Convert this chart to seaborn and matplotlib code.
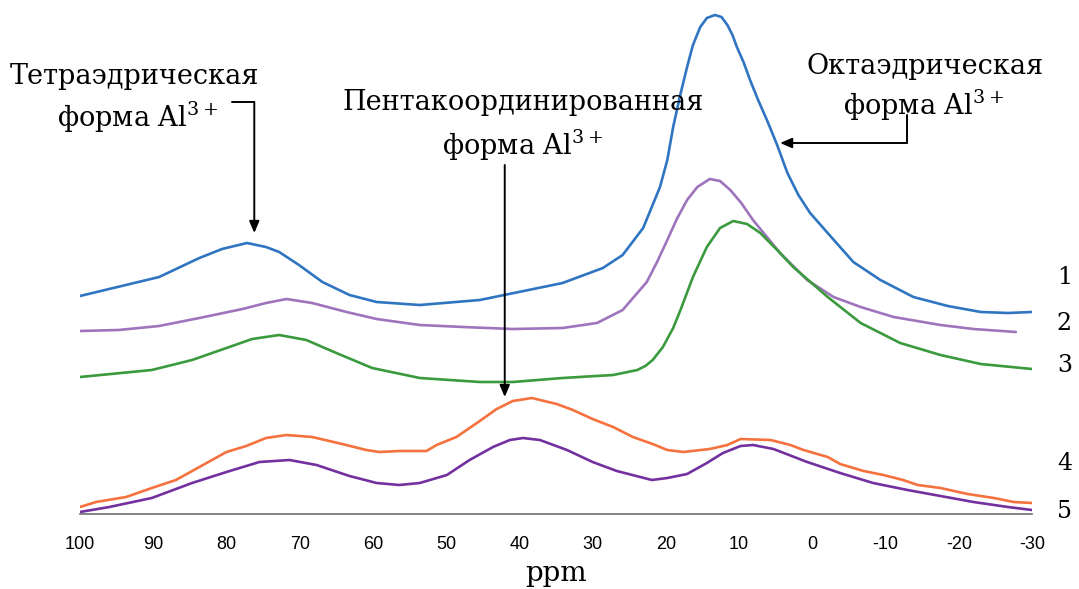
import matplotlib
matplotlib.use("Agg")
import matplotlib.pyplot as plt
import seaborn as sns
import pandas as pd

# ── data: chemical shift (ppm) and intensity (arb. units) ────
ppm_1 = [100, 89.2, 83.7, 80.6, 77.2, 74.6, 72.8, 70.1, 66.9, 63.2, 59.5, 53.6,
         45.4, 34.1, 28.6, 25.9, 23.1, 22.2, 20.8, 19.8, 19.0, 18.1, 17.1, 16.3,
         15.3, 14.4, 13.3, 12.4, 11.6, 10.9, 10.3, 9.4, 8.5, 7.4, 6.2, 4.8,
         3.4, 1.9, 0.3, -2.1, -5.6, -9.3, -13.8, -18.5, -23.0, -26.7, -30]
int_1 = [218, 237, 256, 265, 271, 267, 262, 249, 232, 219, 212, 209,
         214, 231, 246, 259, 286, 302, 327, 354, 387, 417, 447, 469,
         487, 496, 499, 497, 489, 479, 467, 452, 434, 414, 394, 369,
         341, 319, 301, 281, 252, 234, 217, 208, 202, 201, 202]

ppm_2 = [100, 94.7, 89.2, 83.7, 77.8, 74.6, 71.8, 68.3, 63.6, 59.5, 53.6, 47.7,
         40.9, 34.1, 29.4, 25.9, 22.6, 21.2, 19.8, 18.5, 17.1, 15.7, 14.0, 12.6,
         11.2, 9.7, 8.1, 4.4, 0.7, -2.9, -6.6, -11.1, -17.5, -22.0, -27.8]
int_2 = [183, 184, 188, 196, 205, 211, 215, 211, 202, 195, 189, 187,
         185, 186, 191, 204, 232, 252, 274, 295, 314, 327, 335, 333,
         324, 311, 294, 261, 234, 217, 207, 197, 189, 185, 182]

ppm_3 = [100, 90.2, 84.7, 80.0, 76.5, 72.8, 69.1, 65.0, 60.1, 53.6, 45.4, 40.9,
         34.1, 27.2, 23.9, 22.8, 21.8, 20.4, 19.0, 18.0, 16.3, 14.4, 12.6, 10.8,
         8.9, 7.1, 4.8, 2.6, -2.1, -6.6, -12.0, -17.5, -23.0, -30]
int_3 = [137, 144, 154, 166, 175, 179, 174, 161, 146, 136, 132, 132,
         136, 139, 144, 148, 154, 167, 186, 204, 237, 267, 286, 293,
         290, 281, 264, 247, 217, 191, 171, 159, 150, 145]

ppm_4 = [100, 97.8, 93.7, 90.2, 86.9, 83.7, 80.0, 77.3, 74.6, 71.8, 68.3, 64.2,
         60.9, 59.1, 56.4, 52.7, 51.3, 48.6, 45.8, 43.1, 40.9, 38.3, 34.9, 32.7,
         30.0, 27.2, 24.5, 21.8, 19.8, 17.6, 14.0, 11.6, 9.8, 5.7, 3.0, 1.2,
         -2.1, -3.8, -7.0, -9.7, -12.4, -14.4, -17.5, -21.2, -24.8, -27.5, -30]
int_4 = [7, 12, 17, 26, 34, 47, 62, 68, 76, 79, 77, 70,
         64, 62, 63, 63, 69, 77, 91, 105, 113, 116, 110, 104,
         95, 87, 77, 70, 64, 62, 65, 69, 75, 74, 69, 64,
         57, 50, 43, 39, 34, 29, 26, 20, 16, 12, 11]

ppm_5 = [100, 96.0, 90.2, 84.7, 80.0, 75.5, 71.4, 67.7, 63.2, 59.5, 56.4, 53.6,
         49.9, 46.8, 43.6, 41.3, 39.5, 37.2, 33.5, 30.0, 26.7, 23.5, 21.9, 19.8,
         17.1, 14.4, 12.2, 9.8, 8.1, 5.3, 0.7, -3.8, -8.3, -13.0, -17.5, -22.0,
         -26.7, -30]
int_5 = [2, 7, 16, 31, 42, 52, 54, 49, 38, 31, 29, 31,
         39, 54, 67, 74, 76, 74, 64, 52, 43, 37, 34, 36,
         40, 51, 61, 68, 69, 65, 52, 41, 31, 24, 18, 12,
         7, 4]

series_names = ["1", "2", "3", "4", "5"]
colors = ["#2F75C1", "#9F74BC", "#3A9A3D", "#F5713D", "#7331A0"]
xticks = [100, 90, 80, 70, 60, 50, 40, 30, 20, 10, 0, -10, -20, -30]

frames = []
for name, xs, ys in zip(series_names,
                        [ppm_1, ppm_2, ppm_3, ppm_4, ppm_5],
                        [int_1, int_2, int_3, int_4, int_5]):
    frames.append(pd.DataFrame({"ppm": xs, "intensity": ys, "sample": name}))
df = pd.concat(frames, ignore_index=True)

# ── figure ───────────────────────────────────────────────────
sns.set_style("white")
plt.rcParams["mathtext.fontset"] = "dejavuserif"
plt.rcParams["text.color"] = "black"
plt.rcParams["axes.labelcolor"] = "black"
plt.rcParams["xtick.color"] = "black"
serif = ["DejaVu Serif"]
fs = 19.5

fig = plt.figure(figsize=(10.79, 5.89), dpi=100)
ax = fig.add_axes([80 / 1079, 75 / 589, 952 / 1079, 514 / 589])

sns.lineplot(data=df, x="ppm", y="intensity", hue="sample", palette=colors,
             estimator=None, linewidth=1.9, legend=False, ax=ax)

ax.set_xlim(100, -30)
ax.set_ylim(0, 514)
ax.set_xticks(xticks)
ax.set_xticklabels([str(t) for t in xticks],
                   family=["Liberation Sans Narrow", "Liberation Sans"], fontsize=13)
ax.set_yticks([])
ax.set_ylabel("")
ax.set_xlabel("ppm", family=serif, fontsize=20, labelpad=5)
for side in ["left", "right", "top"]:
    ax.spines[side].set_visible(False)
ax.spines["bottom"].set_color("#6e6e6e")
ax.spines["bottom"].set_linewidth(1.2)
ax.tick_params(axis="x", direction="out", length=8, width=1.0, color="#6e6e6e", pad=8)

# ── curve numbers on the right ───────────────────────────────
label_y = [237, 191, 149, 51, 2]
for name, yv in zip(series_names, label_y):
    ax.text(1.026, yv, name, transform=ax.get_yaxis_transform(), ha="left",
            va="center", family=serif, fontsize=17, clip_on=False)

# ── annotations ──────────────────────────────────────────────
akw = dict(arrowstyle="-|>,head_length=0.7,head_width=0.3", color="black",
           lw=1.4, shrinkA=0, shrinkB=0)

ax.text(92.5, 437, "Тетраэдрическая", family=serif, fontsize=fs,
        ha="center", va="center")
ax.text(92.2, 397, "форма Al$^{3+}$", family=serif, fontsize=fs,
        ha="center", va="center")
ax.plot([79.3, 76.2], [412, 412], color="black", lw=1.4)
ax.annotate("", xy=(76.2, 281), xytext=(76.2, 412), arrowprops=akw)

ax.text(39.5, 411, "Пентакоординированная", family=serif, fontsize=fs,
        ha="center", va="center")
ax.text(39.6, 369, "форма Al$^{3+}$", family=serif, fontsize=fs,
        ha="center", va="center")
ax.annotate("", xy=(42.0, 117), xytext=(42.0, 349), arrowprops=akw)

ax.text(-15.4, 447, "Октаэдрическая", family=serif, fontsize=fs,
        ha="center", va="center")
ax.text(-15.2, 409, "форма Al$^{3+}$", family=serif, fontsize=fs,
        ha="center", va="center")
ax.plot([-12.9, -12.9], [399, 371], color="black", lw=1.4)
ax.annotate("", xy=(4.4, 371), xytext=(-12.9, 371), arrowprops=akw)

fig.savefig("out.png", dpi=100)
